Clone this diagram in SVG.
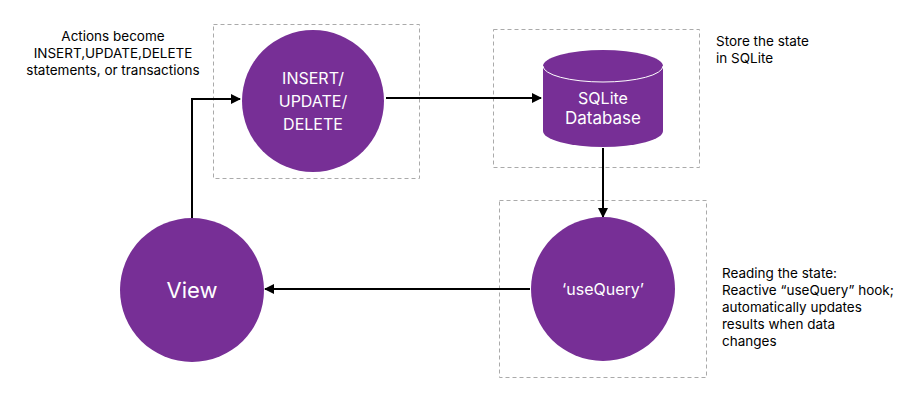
<svg xmlns="http://www.w3.org/2000/svg" width="910" height="412" viewBox="0 0 910 412">
<style>
.box{fill:none;stroke:#aaa;stroke-width:1;stroke-dasharray:4 3}
.node{fill:#772F96}
.lbl{fill:#fff;font-family:Inter,"Noto Sans",sans-serif;font-size:16px;text-anchor:middle}
.note{fill:#000;font-family:Inter,"Noto Sans",sans-serif;font-size:13.5px}
.edge{fill:none;stroke:#000;stroke-width:2;marker-end:url(#ah)}
</style>
<defs><marker id="ah" markerWidth="10" markerHeight="10" refX="9" refY="5" orient="auto" markerUnits="userSpaceOnUse"><path d="M0,0 L10,5 L0,10 z" fill="#000"/></marker></defs>
<rect width="910" height="412" fill="#fff"/>
<g id="boxes">
<rect class="box" x="213.5" y="24.5" width="206" height="154"/>
<rect class="box" x="493.5" y="29.5" width="206" height="138"/>
<rect class="box" x="499.5" y="200.5" width="207" height="177"/>
</g>
<g id="connectors">
<path class="edge" d="M192,218 V99 H240"/>
<path class="edge" d="M386,98 H541"/>
<path class="edge" d="M603,148 V217"/>
<path class="edge" d="M530,289 H265"/>
</g>
<g id="insert"><circle class="node" cx="313" cy="101" r="71"/>
<text class="lbl" x="313" y="84">INSERT/</text><text class="lbl" x="313" y="107">UPDATE/</text><text class="lbl" x="313" y="130">DELETE</text></g>
<g id="sqlite">
<path class="node" d="M543,66 A60,16 0 0 1 663,66 V131 A60,16 0 0 1 543,131 Z"/>
<path d="M543,66 A60,16 0 0 0 663,66" fill="none" stroke="#fff" stroke-width="1"/>
<text class="lbl" x="603" y="104" font-size="17">SQLite</text><text class="lbl" x="603" y="124" style="font-size:17px">Database</text></g>
<g id="usequery"><circle class="node" cx="603" cy="289" r="72"/><text class="lbl" x="603" y="295">‘useQuery’</text></g>
<g id="view"><circle class="node" cx="192" cy="290" r="72"/><text class="lbl" x="192" y="298" style="font-size:22px">View</text></g>
<g id="notes">
<text class="note" text-anchor="middle"><tspan x="113" y="41">Actions become</tspan><tspan x="113" y="58">INSERT,UPDATE,DELETE</tspan><tspan x="113" y="75">statements, or transactions</tspan></text>
<text class="note"><tspan x="716" y="46">Store the state</tspan><tspan x="716" y="63">in SQLite</tspan></text>
<text class="note"><tspan x="722" y="278">Reading the state:</tspan><tspan x="722" y="295">Reactive “useQuery” hook;</tspan><tspan x="722" y="312">automatically updates</tspan><tspan x="722" y="329">results when data</tspan><tspan x="722" y="346">changes</tspan></text>
</g>
</svg>
